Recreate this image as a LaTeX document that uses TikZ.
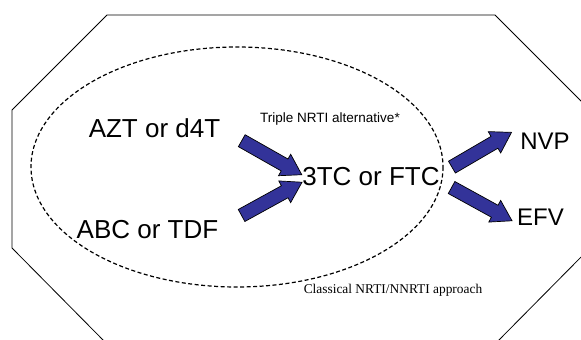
\documentclass[tikz,border=0pt]{standalone}
\usepackage{fontspec}
\setmainfont{Liberation Sans}
\newfontfamily\timesfont{Liberation Serif}
\usepackage{tikz}
\usetikzlibrary{shapes.arrows}
\usepackage[dvipsnames]{xcolor}
\definecolor{arrowblue}{RGB}{51,51,153}

\begin{document}
\begin{tikzpicture}[x=1pt,y=-1pt,
                    every node/.style = {inner sep=0pt, outer sep=0pt},
                    drug/.style = {anchor=base, font=\fontsize{26}{30}\selectfont},
                    nnrti/.style = {anchor=base, font=\fontsize{24}{28}\selectfont},
                    note/.style = {anchor=base, font=\fontsize{13.5}{16}\selectfont},
                    fatarrow/.style = {single arrow, draw=black, fill=arrowblue,
                        line width=0.7pt, inner xsep=0pt, inner ysep=6.5pt,
                        minimum width=24pt, minimum height=69pt,
                        single arrow head extend=5.5pt, single arrow tip angle=64,
                        midway, sloped}]
    \useasboundingbox (0,0) rectangle (581,340);
    \clip (0,0) rectangle (581,340);
    % outer frame
    \draw[line width=0.8pt] (107,15) -- (495,15) -- (590,110) -- (590,248)
        -- (496,343) -- (106,343) -- (12,248) -- (12,110) -- cycle;
    % triple NRTI region
    \draw[line width=1.2pt, dash pattern=on 4pt off 2.5pt] (237,167) ellipse (206 and 120);

    \node[drug] (azt) at (154.5,137) {AZT or d4T};
    \node[drug] (abc) at (147.5,238) {ABC or TDF};
    \node[drug] (ftc) at (371,185) {3TC or FTC};
    \node[nnrti] (nvp) at (545,149) {NVP};
    \node[nnrti] (efv) at (540.5,225) {EFV};
    \node[note] (triple) at (330,122) {Triple NRTI alternative*};
    \node[note, font=\timesfont\fontsize{13.4}{16}\selectfont] (classic) at (393,293)
        {Classical NRTI/NNRTI approach};

    \coordinate (a1s) at (237,138);
    \coordinate (a1e) at (297,172);
    \coordinate (a2s) at (237,218);
    \coordinate (a2e) at (297,185);
    \coordinate (a3s) at (447,170);
    \coordinate (a3e) at (507,135);
    \coordinate (a4s) at (447,185);
    \coordinate (a4e) at (507,218);
    \path (a1s) -- (a1e) node[fatarrow] (arr1) {};
    \path (a2s) -- (a2e) node[fatarrow] (arr2) {};
    \path (a3s) -- (a3e) node[fatarrow] (arr3) {};
    \path (a4s) -- (a4e) node[fatarrow] (arr4) {};
\end{tikzpicture}
\end{document}
